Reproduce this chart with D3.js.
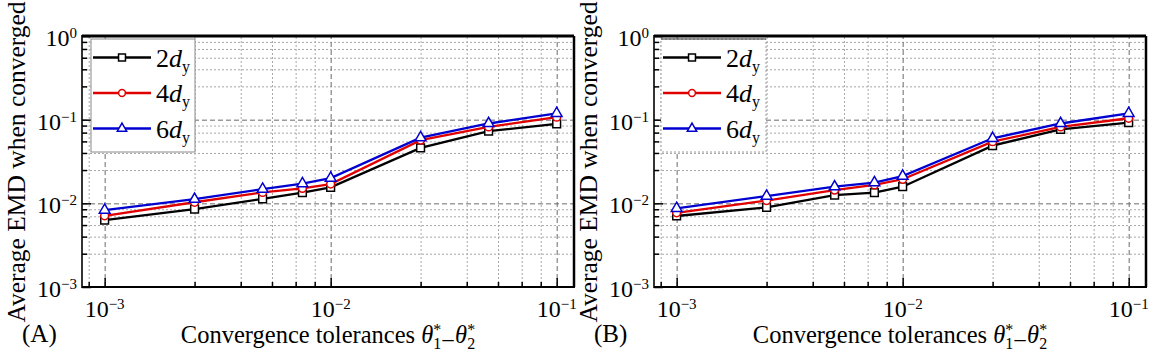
<!DOCTYPE html>
<html>
<head>
<meta charset="utf-8">
<script src="https://cdn.jsdelivr.net/npm/d3@7"></script>
<style>
  html, body { margin: 0; padding: 0; background: #fff; }
  svg text { font-family: "Liberation Serif", "Times New Roman", serif; fill: #000; }
</style>
</head>
<body>
<script>
// x values: convergence tolerances theta1* = theta2*
var tolerances = [0.001, 0.0025, 0.005, 0.0075, 0.01, 0.025, 0.05, 0.1];

// panel (A)
var emdA_2dy = [0.0063, 0.00855, 0.0113, 0.0134, 0.0155, 0.046, 0.073, 0.089];
var emdA_4dy = [0.0071, 0.0103, 0.0135, 0.0151, 0.0170, 0.057, 0.082, 0.107];
var emdA_6dy = [0.0083, 0.0112, 0.0148, 0.0172, 0.0200, 0.061, 0.090, 0.119];

// panel (B)
var emdB_2dy = [0.00706, 0.00896, 0.0125, 0.0134, 0.0158, 0.049, 0.0765, 0.092];
var emdB_4dy = [0.0077, 0.0108, 0.0144, 0.0166, 0.0194, 0.0546, 0.082, 0.104];
var emdB_6dy = [0.0087, 0.0122, 0.0158, 0.0177, 0.0212, 0.0599, 0.090, 0.119];

var seriesNames = ["2", "4", "6"];
var seriesColors = ["#000000", "#e00000", "#0000d0"];

// axis ticks (log10 exponents) and Origin-style minor multipliers
var xTickExps = [-3, -2, -1];
var yTickExps = [0, -1, -2, -3];
var minorMult = [2.5, 4, 5.5, 7, 8.5];
var xDomain = [7.94e-4, 0.1193];
var yDomain = [1e-3, 1];

var W = 1153, H = 359;
var svg = d3.select("body").append("svg")
    .attr("width", W)
    .attr("height", H);

function minorValues(dom, decades){
  var out = [];
  decades.forEach(function(k){
    minorMult.forEach(function(m){
      var v = m * Math.pow(10, k);
      if(v > dom[0] && v < dom[1]) out.push(v);
    });
  });
  return out;
}

function addPow(textSel, exp){
  textSel.append("tspan").text("10");
  textSel.append("tspan")
    .attr("font-size", 15)
    .attr("dy", -8)
    .text(exp === 0 ? "0" : "\u2212" + Math.abs(exp));
}

function drawPanel(ox, tag, s2, s4, s6, legendBox){
  var top = 36, bottom = 287, width = 492;
  var x = d3.scaleLog().domain(xDomain).range([ox, ox + width]);
  var y = d3.scaleLog().domain(yDomain).range([bottom, top]);
  var g = svg.append("g");

  var xMajor = xTickExps.map(function(e){ return Math.pow(10, e); });
  var yMajor = yTickExps.map(function(e){ return Math.pow(10, e); });
  var xMinor = minorValues(xDomain, [-4, -3, -2, -1]);
  var yMinor = minorValues(yDomain, [-3, -2, -1]);

  // grid lines
  var gMinX = g.append("g")
      .attr("transform", "translate(0," + bottom + ")")
      .call(d3.axisBottom(x).tickValues(xMinor).tickSize(-(bottom - top)).tickFormat(""));
  var gMinY = g.append("g")
      .attr("transform", "translate(" + ox + ",0)")
      .call(d3.axisLeft(y).tickValues(yMinor).tickSize(-width).tickFormat(""));
  [gMinX, gMinY].forEach(function(s){
    s.select(".domain").remove();
    s.selectAll(".tick line").attr("stroke", "#a8a8a8").attr("stroke-dasharray", "2,2");
  });
  var gMajX = g.append("g")
      .attr("transform", "translate(0," + bottom + ")")
      .call(d3.axisBottom(x).tickValues(xMajor).tickSize(-(bottom - top)).tickFormat(""));
  var gMajY = g.append("g")
      .attr("transform", "translate(" + ox + ",0)")
      .call(d3.axisLeft(y).tickValues(yMajor).tickSize(-width).tickFormat(""));
  [gMajX, gMajY].forEach(function(s){
    s.select(".domain").remove();
    s.selectAll(".tick line").attr("stroke", "#6a6a6a").attr("stroke-dasharray", "5,3");
  });

  // inward ticks
  var tk = [
    g.append("g").attr("transform", "translate(0," + bottom + ")")
      .call(d3.axisBottom(x).tickValues(xMinor).tickSize(-5).tickFormat("")),
    g.append("g").attr("transform", "translate(0," + bottom + ")")
      .call(d3.axisBottom(x).tickValues(xMajor).tickSize(-9).tickFormat("")),
    g.append("g").attr("transform", "translate(" + ox + ",0)")
      .call(d3.axisLeft(y).tickValues(yMinor).tickSize(-5).tickFormat("")),
    g.append("g").attr("transform", "translate(" + ox + ",0)")
      .call(d3.axisLeft(y).tickValues(yMajor).tickSize(-9).tickFormat(""))
  ];
  tk.forEach(function(s){
    s.select(".domain").remove();
    s.selectAll(".tick line").attr("stroke", "#000").attr("stroke-width", 1.5);
  });

  // frame
  g.append("line").attr("x1", ox).attr("x2", ox + width).attr("y1", top).attr("y2", top)
    .attr("stroke", "#000").attr("stroke-width", 3);
  g.append("line").attr("x1", ox + width).attr("x2", ox + width).attr("y1", top).attr("y2", bottom)
    .attr("stroke", "#000").attr("stroke-width", 2.5);
  g.append("line").attr("x1", ox).attr("x2", ox).attr("y1", top - 1).attr("y2", bottom + 1)
    .attr("stroke", "#000").attr("stroke-width", 1.6);
  g.append("line").attr("x1", ox).attr("x2", ox + width + 1).attr("y1", bottom).attr("y2", bottom)
    .attr("stroke", "#000").attr("stroke-width", 2);

  // tick labels
  g.selectAll(".xlab").data(xTickExps).enter().append("text")
    .attr("class", "xlab")
    .attr("x", function(d){ return x(Math.pow(10, d)); })
    .attr("y", 317)
    .attr("font-size", 24)
    .attr("text-anchor", "middle")
    .each(function(d){ addPow(d3.select(this), d); });
  g.selectAll(".ylab").data(yTickExps).enter().append("text")
    .attr("class", "ylab")
    .attr("x", ox - 5)
    .attr("y", function(d){ return y(Math.pow(10, d)) + 10; })
    .attr("font-size", 24)
    .attr("text-anchor", "end")
    .each(function(d){ addPow(d3.select(this), d); });

  // axis titles
  g.append("text")
    .attr("transform", "translate(" + (ox - 57) + ",162) rotate(-90)")
    .attr("text-anchor", "middle")
    .attr("font-size", 25.5)
    .text("Average EMD when converged");

  var xt = g.append("text")
    .attr("x", ox + width / 2)
    .attr("y", 343)
    .attr("text-anchor", "middle")
    .attr("font-size", 24.5);
  xt.append("tspan").text("Convergence tolerances ");
  [1, 2].forEach(function(i){
    if(i === 2) xt.append("tspan").attr("dy", 0).text("\u2212");
    xt.append("tspan").attr("font-style", "italic").attr("dy", i === 2 ? -6 : 0).text("\u03b8");
    xt.append("tspan").attr("font-size", 16).attr("dy", -8).text("*");
    xt.append("tspan").attr("font-size", 16).attr("dx", -8).attr("dy", 14).text(i);
  });

  g.append("text")
    .attr("x", ox - 60)
    .attr("y", 342)
    .attr("font-size", 25)
    .text("(" + tag + ")");

  // series
  var seriesData = [s2, s4, s6];
  var symbols = [d3.symbolSquare, d3.symbolCircle, d3.symbolTriangle];
  var symSizes = [60, 48, 50];
  var line = d3.line()
    .x(function(d){ return x(d[0]); })
    .y(function(d){ return y(d[1]); });

  seriesData.forEach(function(vals, si){
    var pts = tolerances.map(function(t, i){ return [t, vals[i]]; });
    g.append("path")
      .datum(pts)
      .attr("d", line)
      .attr("fill", "none")
      .attr("stroke", seriesColors[si])
      .attr("stroke-width", 2.3);
    g.selectAll(".mk" + si).data(pts).enter().append("path")
      .attr("class", "mk" + si)
      .attr("transform", function(d){ return "translate(" + x(d[0]) + "," + y(d[1]) + ")"; })
      .attr("d", d3.symbol().type(symbols[si]).size(symSizes[si]))
      .attr("fill", "#fff")
      .attr("stroke", seriesColors[si])
      .attr("stroke-width", 1.5);
  });

  // legend
  var lg = g.append("g");
  lg.append("rect")
    .attr("x", legendBox.x).attr("y", 39)
    .attr("width", legendBox.w).attr("height", 113)
    .attr("fill", "#fff")
    .attr("stroke", legendBox.dotted ? "#9a9a9a" : "#8a8a8a")
    .attr("stroke-dasharray", legendBox.dotted ? "2,2" : null)
    .attr("stroke-width", 1);
  if(legendBox.dotted){
    lg.append("line")
      .attr("x1", legendBox.x).attr("x2", legendBox.x + legendBox.w)
      .attr("y1", 39).attr("y2", 39)
      .attr("stroke", "#333").attr("stroke-width", 1.2);
  }
  var rowY = [57.5, 93, 128.5];
  seriesNames.forEach(function(nm, si){
    var ry = rowY[si];
    lg.append("line")
      .attr("x1", legendBox.x + 2).attr("x2", legendBox.x + 60)
      .attr("y1", ry).attr("y2", ry)
      .attr("stroke", seriesColors[si]).attr("stroke-width", 2.3);
    lg.append("path")
      .attr("transform", "translate(" + (legendBox.x + 31) + "," + ry + ")")
      .attr("d", d3.symbol().type(symbols[si]).size(symSizes[si] - 12))
      .attr("fill", "#fff")
      .attr("stroke", seriesColors[si])
      .attr("stroke-width", 1.5);
    var t = lg.append("text")
      .attr("x", legendBox.x + 65)
      .attr("y", ry + 9)
      .attr("font-size", 26);
    t.append("tspan").text(nm);
    t.append("tspan").attr("font-style", "italic").text("d");
    t.append("tspan").attr("font-size", 16).attr("dy", 5).text("y");
  });
}

drawPanel(82, "A", emdA_2dy, emdA_4dy, emdA_6dy, {x: 91, w: 104, dotted: false});
drawPanel(654, "B", emdB_2dy, emdB_4dy, emdB_6dy, {x: 661, w: 105, dotted: true});
</script>
</body>
</html>
